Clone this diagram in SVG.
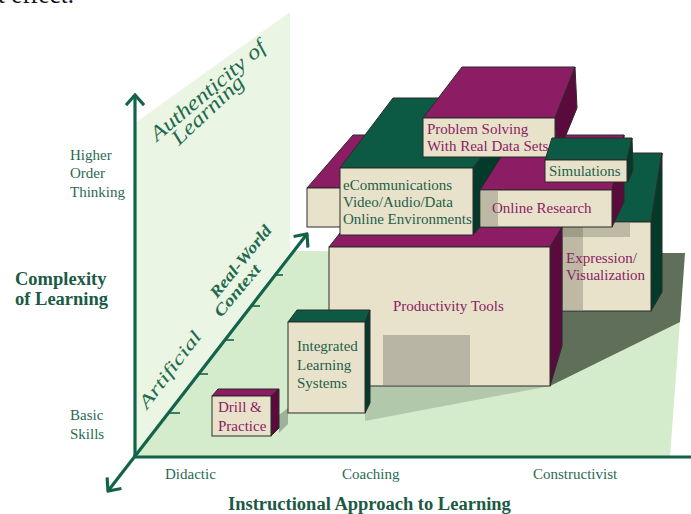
<svg xmlns="http://www.w3.org/2000/svg" width="691" height="514" viewBox="0 0 691 514">
<style>
.t{font-family:"Liberation Serif","Times New Roman",serif;font-size:15px}
.lab{fill:#2a6a53}
.bold{font-weight:bold;font-size:18.5px;fill:#1b5a44}
.mt{fill:#8a2262}
.gt{fill:#1f5f49}
.it{font-family:"Liberation Serif","Times New Roman",serif;font-style:italic;fill:#1f6a50}
.front{fill:#e8e2cb;stroke:#2b2b2b;stroke-width:1}
.mtop{fill:#8c1c63;stroke:#2b2b2b;stroke-width:1}
.mside{fill:#5a0a3c;stroke:#2b2b2b;stroke-width:1}
.gtop{fill:#0c5a43;stroke:#2b2b2b;stroke-width:1}
.gside{fill:#043a2a;stroke:#2b2b2b;stroke-width:1}
.gray{fill:#5a5a4a;opacity:0.3}
.axis{stroke:#13634a;stroke-width:3.2;fill:none}
.tick{stroke:#13634a;stroke-width:1.6}
</style>
<defs>
<marker id="chev" markerUnits="userSpaceOnUse" viewBox="-12 -10 14 20" refX="0" refY="0" markerWidth="14" markerHeight="20" orient="auto-start-reverse">
<path d="M-9,-8 L0,0 L-9,8" fill="none" stroke="#13634a" stroke-width="3.2" stroke-linecap="square"/>
</marker>
</defs>
<rect width="691" height="514" fill="#ffffff"/>
<text class="t" x="-2" y="3" style="font-size:25px" fill="#111">t effect.</text>

<g id="planes">
<polygon points="135,123 290,12 290,252 135,457" fill="#ebf5e3"/>
<polygon points="135,457 295,251 640,253 685,253 670,457" fill="#d5eccc"/>
<polygon points="645,253 685,253 680,322 550,386 550,258" fill="#5f6f59"/>
<polygon points="365,386 550,386 365,421" fill="#7d9478" opacity="0.4"/>
<polygon points="279,415 288,408 288,424 279,433" fill="#7a8a76" opacity="0.6"/>
</g>

<g id="connectors">
<line class="axis" x1="135" y1="458" x2="135" y2="95" marker-end="url(#chev)"/>
<line class="axis" x1="133" y1="457" x2="691" y2="457"/>
<line class="axis" x1="108" y1="491" x2="307" y2="234" marker-start="url(#chev)" marker-end="url(#chev)"/>
<line class="tick" x1="168" y1="413" x2="180" y2="413"/>
<line class="tick" x1="198" y1="374" x2="208" y2="374"/>
<line class="tick" x1="225" y1="340" x2="234" y2="340"/>
<line class="tick" x1="251" y1="306" x2="260" y2="306"/>
<line class="tick" x1="275" y1="275" x2="283" y2="275"/>
</g>

<g id="labels">
<text class="t lab" x="70" y="160">Higher</text>
<text class="t lab" x="70" y="178">Order</text>
<text class="t lab" x="70" y="197">Thinking</text>
<text class="t lab" x="70" y="420">Basic</text>
<text class="t lab" x="70" y="439">Skills</text>
<text class="t bold" x="15" y="285">Complexity</text>
<text class="t bold" x="15" y="305">of Learning</text>
<text class="t lab" x="165" y="479">Didactic</text>
<text class="t lab" x="342" y="479">Coaching</text>
<text class="t lab" x="533" y="479">Constructivist</text>
<text class="t bold" x="228" y="510">Instructional Approach to Learning</text>
<text class="it" font-size="21" textLength="144" lengthAdjust="spacingAndGlyphs" transform="translate(157,142) rotate(-40)">Authenticity of</text>
<text class="it" font-size="21" textLength="91" lengthAdjust="spacingAndGlyphs" transform="translate(179,146) rotate(-43)">Learning</text>
<text class="it" font-size="16" font-weight="bold" textLength="88" lengthAdjust="spacingAndGlyphs" transform="translate(217,299) rotate(-51)">Real-World</text>
<text class="it" font-size="16" font-weight="bold" textLength="63" lengthAdjust="spacingAndGlyphs" transform="translate(221,318) rotate(-50)">Context</text>
<text class="it" font-size="18" textLength="92" lengthAdjust="spacingAndGlyphs" transform="translate(147,410) rotate(-53)">Artificial</text>
</g>

<g id="expression">
<polygon class="gtop" points="562,222 600,153 662,153 651,222"/>
<polygon class="gside" points="651,222 662,153 662,292 651,311"/>
<rect class="front" x="562" y="222" width="89" height="89"/>
<rect class="gray" x="563" y="223" width="20" height="87"/>
<rect class="gray" x="563" y="223" width="67" height="14"/>
<text class="t mt" x="566" y="263">Expression/</text>
<text class="t mt" x="566" y="280">Visualization</text>
</g>

<g id="productivity">
<polygon class="mtop" points="329,247 344,228 562,227 550,247"/>
<polygon class="mside" points="550,247 562,227 562,346 550,386"/>
<rect class="front" x="329" y="247" width="221" height="139"/>
<rect x="383" y="335" width="87" height="50" fill="#b9b5a5"/>
<text class="t mt" x="393" y="311">Productivity Tools</text>
</g>

<g id="leftbox">
<polygon class="mtop" points="307,188 353,135 420,135 420,188"/>
<rect class="front" x="307" y="188" width="40" height="39"/>
</g>

<g id="ecomm">
<polygon class="gtop" points="340,168 393,98 528,98 473,168"/>
<polygon class="gside" points="473,168 528,98 528,172 473,235"/>
<rect class="front" x="340" y="168" width="133" height="67"/>
<text class="t gt" x="343" y="190">eCommunications</text>
<text class="t gt" x="343" y="207">Video/Audio/Data</text>
<text class="t gt" x="343" y="224">Online Environments</text>
</g>

<g id="research">
<polygon class="mtop" points="480,190 515,135 624,135 612,190"/>
<polygon class="mside" points="612,190 624,135 624,202 612,227"/>
<rect class="front" x="480" y="190" width="132" height="37"/>
<rect class="gray" x="481" y="191" width="17" height="35"/>
<text class="t mt" x="492" y="213">Online Research</text>
</g>

<g id="problem">
<polygon class="mtop" points="423,118 462,67 575,67 555,118"/>
<polygon class="mside" points="555,118 575,67 577,108 557,157"/>
<rect class="front" x="423" y="118" width="132" height="39"/>
<text class="t mt" x="427" y="134">Problem Solving</text>
<text class="t mt" x="427" y="151">With Real Data Sets</text>
</g>

<g id="simulations">
<polygon class="gtop" points="545,160 552,138 632,138 627,160"/>
<polygon class="gside" points="627,160 632,138 633,170 628,182"/>
<rect class="front" x="545" y="160" width="82" height="22"/>
<text class="t gt" x="549" y="176">Simulations</text>
</g>

<g id="ils">
<polygon class="gtop" points="288,322 297,310 370,310 365,322"/>
<polygon class="gside" points="365,322 370,310 370,403 365,413"/>
<rect class="front" x="288" y="322" width="77" height="91"/>
<text class="t gt" x="297" y="351">Integrated</text>
<text class="t gt" x="297" y="370">Learning</text>
<text class="t gt" x="297" y="388">Systems</text>
</g>

<g id="drill">
<polygon class="mtop" points="212,396 218,389 279,389 271,396"/>
<polygon class="mside" points="271,396 279,389 279,428 271,436"/>
<rect class="front" x="212" y="396" width="59" height="40"/>
<text class="t mt" x="218" y="412">Drill &amp;</text>
<text class="t mt" x="218" y="431">Practice</text>
</g>
</svg>
